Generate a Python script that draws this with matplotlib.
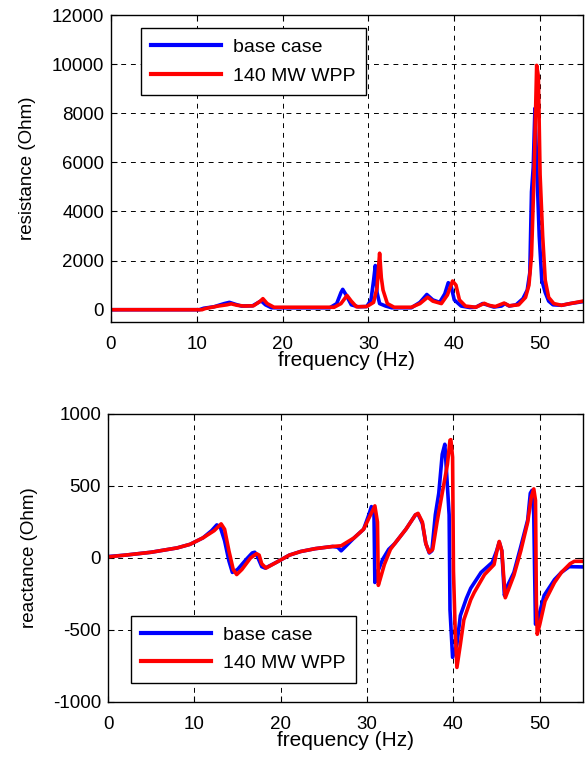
#Import libraries
import matplotlib
matplotlib.use('Agg')
import matplotlib.pyplot as plt

plt.rcParams['font.family'] = ['Liberation Sans', 'DejaVu Sans']
plt.rcParams['axes.unicode_minus'] = False

#Data (frequency in Hz, values in Ohm)
res_base_f = [0, 10.3, 10.8, 12.0, 13.2, 13.8, 14.5, 15.2, 16.5, 17.2, 17.5, 18.0, 18.7, 22, 25.5,
              26.3, 26.8, 27.0, 27.4, 28.0, 28.8, 29.8, 30.3, 30.6, 30.8, 31.0, 31.3, 32.0, 32.7,
              35, 36.0, 36.8, 37.5, 38.3, 38.9, 39.3, 39.6, 40.0, 40.8, 41.8, 42.5, 43.3, 43.8,
              44.6, 45.5, 45.9, 46.4, 47.2, 48.0, 48.5, 48.8, 49.0, 49.2, 49.4, 49.6, 49.9, 50.2,
              50.6, 51.0, 51.5, 52.5, 53.5, 55]
res_base = [0, 0, 60, 120, 250, 300, 220, 150, 160, 300, 360, 200, 80, 80, 80,
            250, 700, 830, 600, 200, 120, 130, 400, 1200, 1800, 700, 250, 150, 80,
            80, 300, 620, 400, 300, 650, 1100, 1000, 400, 150, 90, 100, 250, 200,
            110, 150, 250, 150, 200, 450, 800, 1500, 4800, 5800, 8200, 6000, 3000, 1200,
            700, 350, 200, 180, 250, 330]

res_wpp_f = [0, 10.6, 11.0, 12.5, 13.5, 14.0, 14.7, 15.5, 16.6, 17.4, 17.7, 18.2, 19.0, 22, 26.0,
             26.8, 27.5, 28.0, 28.6, 29.8, 30.6, 31.0, 31.3, 31.5, 31.7, 32.2, 33, 35, 36.0,
             36.9, 37.5, 38.5, 39.2, 39.8, 40.2, 40.6, 41.3, 42.5, 43.5, 44.0, 44.8, 45.8, 46.4,
             47.5, 48.3, 48.7, 49.0, 49.3, 49.6, 49.8, 50.0, 50.3, 50.6, 51.0, 51.6, 52.5, 53.5, 55]
res_wpp = [0, 0, 50, 150, 200, 240, 180, 150, 160, 350, 450, 250, 100, 100, 100,
           250, 580, 350, 120, 130, 300, 900, 2300, 1300, 800, 250, 100, 100, 250,
           510, 350, 250, 600, 1170, 1000, 400, 150, 100, 260, 180, 130, 270, 160,
           200, 500, 1000, 2200, 5500, 9950, 9500, 5500, 3000, 1200, 500, 250, 180, 250, 350]

reac_base_f = [0, 2, 5, 8, 9.5, 11.0, 12.0, 12.6, 13.0, 13.5, 14.0, 14.4, 15.0, 16.0, 16.7, 17.0,
               17.3, 17.8, 18.2, 19.5, 21, 22.3, 24, 26.0, 26.6, 27.0, 27.5, 28.5, 29.6, 30.2,
               30.5, 30.8, 30.9, 31.2, 31.8, 32.5, 33.2, 34.5, 35.6, 35.9, 36.4, 36.8, 37.2, 37.5,
               37.9, 38.3, 38.7, 39.0, 39.3, 39.5, 39.6, 39.9, 40.4, 40.8, 41.5, 42.0, 43.2, 44.5,
               45.0, 45.3, 45.6, 45.9, 46.2, 47.0, 47.8, 48.6, 48.9, 49.1, 49.3, 49.4, 49.5, 49.8,
               50.5, 51.7, 52.5, 53.4, 55]
reac_base = [10, 20, 40, 70, 95, 140, 190, 230, 215, 120, -20, -100, -80, -10, 35, 40,
             10, -60, -70, -30, 20, 45, 65, 80, 75, 50, 80, 140, 200, 300,
             357, 300, -170, -100, -10, 60, 100, 200, 300, 305, 240, 100, 35, 50,
             300, 450, 720, 790, 500, 300, -360, -690, -600, -400, -280, -210, -100, -30,
             50, 110, 50, -260, -200, -100, 80, 265, 450, 470, 300, -100, -460, -420,
             -260, -150, -100, -60, -62]

reac_wpp_f = [0, 2, 5, 8, 9.5, 11.0, 12.3, 13.1, 13.5, 14.0, 14.5, 14.9, 15.5, 16.5, 17.2, 17.5,
              17.8, 18.3, 19.5, 21, 22.3, 24, 26.0, 27.0, 28.5, 29.6, 30.4, 30.9, 31.2, 31.3,
              31.5, 32.0, 32.7, 33.2, 34.5, 35.6, 35.9, 36.4, 36.8, 37.2, 37.6, 38.1, 38.7, 39.3,
              39.6, 39.7, 39.9, 40.0, 40.2, 40.4, 40.8, 41.2, 42.0, 42.4, 43.6, 44.7, 45.0, 45.3,
              45.6, 46.0, 46.3, 47.0, 47.8, 48.6, 49.0, 49.3, 49.5, 49.6, 49.7, 50.0, 50.6, 51.7,
              52.5, 53.5, 54.0, 55]
reac_wpp = [8, 20, 40, 70, 95, 140, 190, 237, 200, 50, -80, -115, -80, 0, 30, 20,
            -40, -70, -30, 20, 45, 65, 80, 85, 140, 200, 300, 362, 250, -190,
            -150, -45, 60, 100, 200, 300, 310, 250, 100, 40, 60, 250, 450, 650,
            818, 822, 700, -90, -500, -760, -600, -430, -290, -240, -115, -46, 40, 115,
            50, -276, -230, -120, 50, 250, 420, 480, 400, -300, -530, -460, -300, -170,
            -100, -40, -23, -23]

labels = ['base case', '140 MW WPP']
x_ticks = [0, 10, 20, 30, 40, 50]
res_ticks = [0, 2000, 4000, 6000, 8000, 10000, 12000]
reac_ticks = [-1000, -500, 0, 500, 1000]

W, H = 587, 760
fs = 13.5

#Create a function to style one matlab-like axes
def style_axes(ax, yticks, ylim, ylabel):
    ax.set_xlim(0, 55)
    ax.set_ylim(*ylim)
    ax.set_xticks(x_ticks)
    ax.set_yticks(yticks)
    ax.tick_params(direction='in', top=True, right=True, labelsize=fs, length=4, width=0.8)
    ax.tick_params(axis='x', pad=10)
    ax.tick_params(axis='y', pad=5)
    ax.grid(True, color='black', linestyle=(0, (5, 5)), linewidth=0.7)
    for s in ax.spines.values():
        s.set_linewidth(1.0)
    ax.set_xlabel('frequency (Hz)', fontsize=15, labelpad=-1)
    ax.set_ylabel(ylabel, fontsize=13.5, labelpad=11)

fig = plt.figure(figsize=(W/100, H/100), dpi=100)
ax1 = fig.add_axes([111/W, 1-322/H, 472/W, 307/H])
ax2 = fig.add_axes([108/W, 1-702/H, 475/W, 288/H])

ax1.plot(res_base_f, res_base, color='#0000ff', lw=2.6, label=labels[0])
ax1.plot(res_wpp_f, res_wpp, color='#ff0000', lw=2.6, label=labels[1])
style_axes(ax1, res_ticks, (-500, 12000), 'resistance (Ohm)')

ax2.plot(reac_base_f, reac_base, color='#0000ff', lw=2.6, label=labels[0])
ax2.plot(reac_wpp_f, reac_wpp, color='#ff0000', lw=2.6, label=labels[1])
style_axes(ax2, reac_ticks, (-1000, 1000), 'reactance (Ohm)')

leg_kw = dict(fontsize=14, fancybox=False, framealpha=1, edgecolor='black', borderaxespad=0,
              handlelength=3.6, handletextpad=0.6, labelspacing=0.55, borderpad=0.55)
l1 = ax1.legend(loc='upper left', bbox_to_anchor=(0.063, 0.958), **leg_kw)
l2 = ax2.legend(loc='lower left', bbox_to_anchor=(0.048, 0.066), **leg_kw)
for l in (l1, l2):
    l.get_frame().set_linewidth(1.0)
    for h in l.get_lines():
        h.set_linewidth(3)

plt.savefig('out.png', dpi=100)
